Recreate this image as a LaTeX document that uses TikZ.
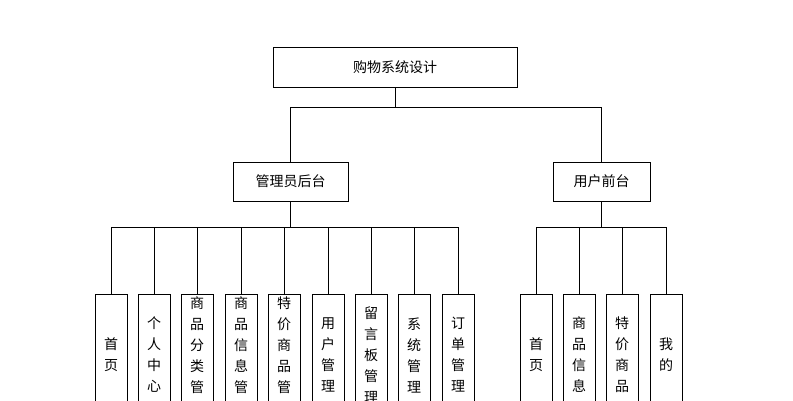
\documentclass[tikz,border=0pt]{standalone}
\usepackage{fontspec}
\setmainfont{Noto Sans CJK SC}
\begin{document}
\begin{tikzpicture}[x=1pt,y=-1pt,
  box/.style={draw=black,line width=0.8pt,fill=white,inner sep=0pt,font=\fontsize{14}{16}\selectfont},
  leaf/.style={box,minimum width=32pt,minimum height=122pt,align=center,font=\fontsize{14}{21}\selectfont},
  ln/.style={draw=black,line width=0.8pt}]
\clip (0,0) rectangle (793,400);
\useasboundingbox (0,0) rectangle (793,400);
\node[box,minimum width=244pt,minimum height=40pt] (top) at (395,67) {购物系统设计};
\node[box,minimum width=115pt,minimum height=39pt] (adm) at (290.5,181.5) {管理员后台};
\node[box,minimum width=97pt,minimum height=39pt] (usr) at (601.5,181.5) {用户前台};
\coordinate (j) at (395,107);
\draw[ln] (top.south) -- (j) (adm.north|-j) -- (usr.north|-j) (adm.north|-j) -- (adm.north) (usr.north|-j) -- (usr.north);
\foreach \n/\x/\t in {a1/111/首\\页, a2/154/个\\人\\中\\心, a3/197/商\\品\\分\\类\\管\\理, a4/241/商\\品\\信\\息\\管\\理, a5/284/特\\价\\商\\品\\管\\理, a6/328/用\\户\\管\\理, a7/371/留\\言\\板\\管\\理, a8/414/系\\统\\管\\理, a9/458/订\\单\\管\\理}{
  \node[leaf] (\n) at (\x,355) {\t};
  \draw[ln] (\n.north) -- (\x,227);
}
\draw[ln] (111,227) -- (458,227);
\foreach \n/\x/\t in {u1/536/首\\页, u2/579/商\\品\\信\\息, u3/622/特\\价\\商\\品, u4/666/我\\的}{
  \node[leaf] (\n) at (\x,355) {\t};
  \draw[ln] (\n.north) -- (\x,227);
}
\draw[ln] (536,227) -- (666,227);
\draw[ln] (usr.south) -- (601.5,227);
\draw[ln] (adm.south) -- (290.5,227);
\end{tikzpicture}
\end{document}
